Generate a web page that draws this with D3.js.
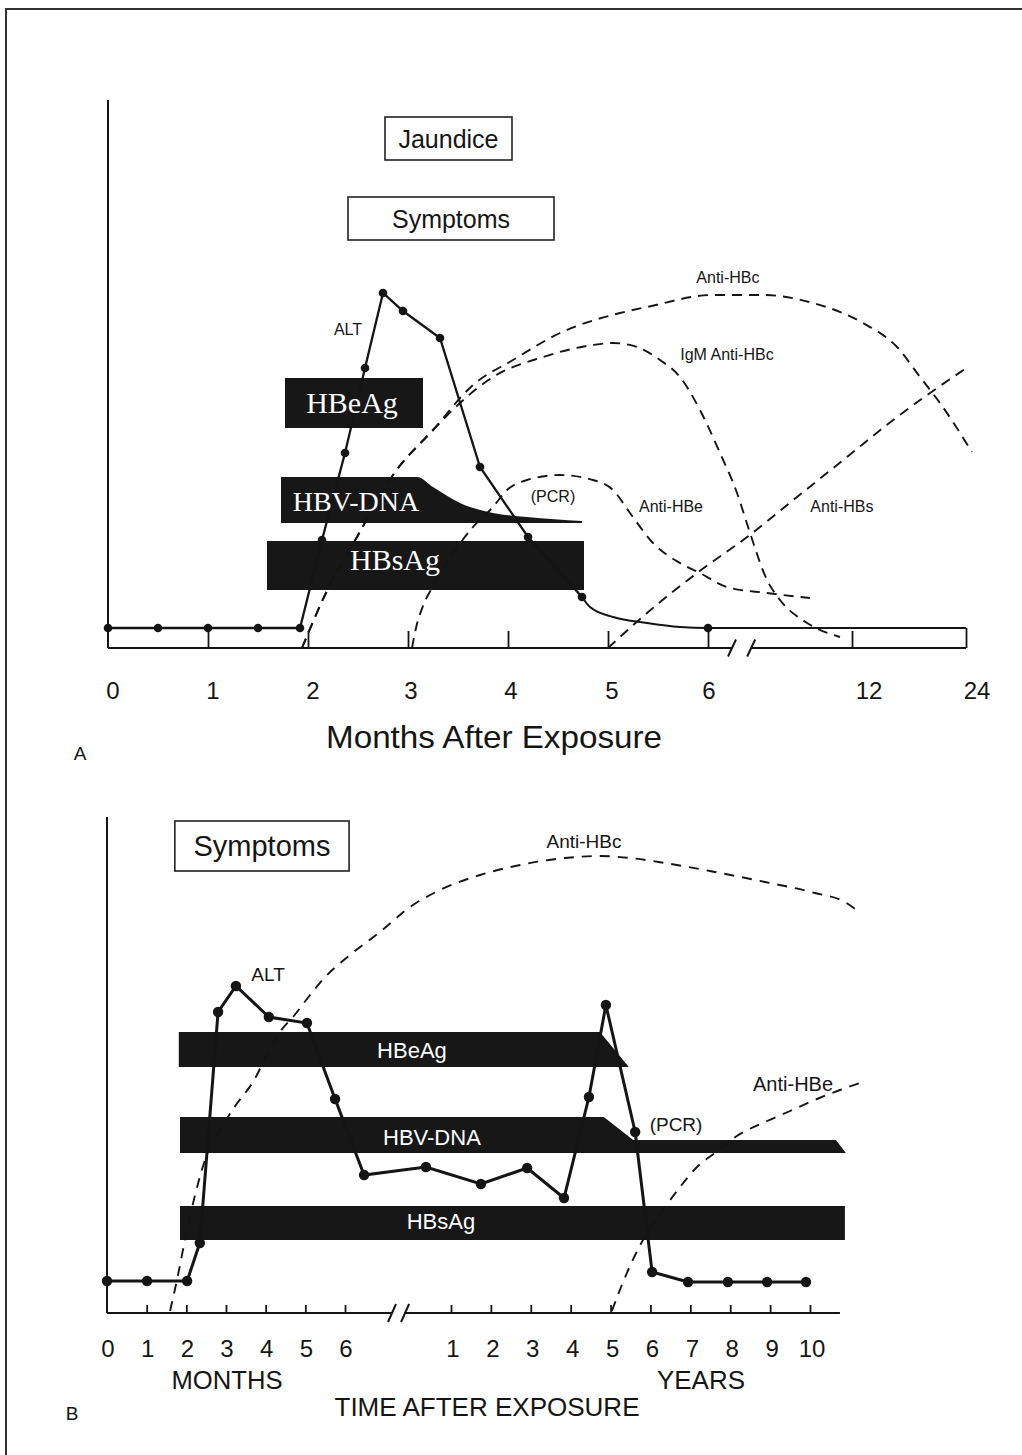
<!DOCTYPE html>
<html><head><meta charset="utf-8">
<script src="https://cdn.jsdelivr.net/npm/d3@7"></script>
<style>
body{margin:0;background:#fff}
svg{display:block}
text{font-family:"Liberation Sans",Arial,Helvetica,sans-serif;fill:#151515}
</style>
</head><body>
<svg id="c" width="1022" height="1455"></svg>
<script>
// ================= DATA : PANEL A (months after exposure) =================
const tickValuesA = [1,2,3,4,5,6,12,24];
const tickLabelsA = [0,1,2,3,4,5,6,12,24];
const breakA = [7.0, 7.8];

const altA_months = [0,0.5,1,1.5,1.92,2.14,2.37,2.57,2.75,2.95,3.32,3.72,4.20,4.74];
const altA_values = [4,4,4,4,4,21.6,39,56,71,67.4,62,36.2,22.2,10.2];
const altA_tail_months = [4.74,4.82,5.05,5.39,5.72,6,24];
const altA_tail_values = [10.2,8.2,6.2,5.0,4.2,4,4];
const altA_tail_dots = [6];

const antiHBcA_months = [1.94,2.17,2.49,2.85,3.25,3.65,4.05,4.52,5.12,5.39,6.21,8.29,10.38,13.16,16.74,19.16,21.26,24.63];
const antiHBcA_values = [0,10.6,22.2,34.6,43.6,52.6,57.6,63.0,67.0,68.2,70.6,70.6,69.0,65.0,60.2,54.2,49.0,39.2];
const igmA_months = [1.94,2.17,2.49,2.85,3.25,3.52,3.85,4.35,4.85,5.05,5.29,5.52,5.72,5.92,6.50,7.21,7.75,8.46,9.00,10.13,11.50];
const igmA_values = [0,10.6,22.2,34.6,43.6,49.0,54.2,58.2,60.6,61.0,60.2,57.6,54.2,47.6,39.0,31.0,23.0,13.6,9.6,5.0,2.2];
const antiHBeA_months = [3.04,3.08,3.15,3.24,3.42,3.65,3.85,3.99,4.19,4.52,4.85,5.05,5.22,5.45,5.72,5.92,6.79,8.46,10.25];
const antiHBeA_values = [0,4,8.4,12,18,24.2,28.2,31.6,33.6,34.6,33.6,31.6,27.0,21.0,17.0,15.0,12.2,11.0,10.0];
const antiHBsA_months = [5.0,5.39,5.89,7.63,9.71,11.79,16.74,20.21,24.21];
const antiHBsA_values = [0,7.0,15.0,22.2,30.2,38.2,46.2,51.0,56.2];

const barNamesA = ["HBeAg","HBsAg"];
const barStartA = [1.77,1.59];
const barEndA   = [3.15,4.76];
const barLowA   = [44,11.6];
const barHighA  = [54,21.4];
const hbvDnaA_months = [1.73,3.09,3.25,3.52,3.85,4.19,4.74];
const hbvDnaA_top    = [34.2,34.2,32.2,29.0,27.0,26.2,25.4];
const hbvDnaA_bottom = 25.0;

const boxNamesA = ["Jaundice","Symptoms"];
const boxStartA = [2.77,2.40];
const boxEndA   = [4.04,4.46];
const boxLowA   = [97.6,81.6];
const boxHighA  = [106.2,90.2];

const labelTextA  = ["ALT","Anti-HBc","IgM Anti-HBc","(PCR)","Anti-HBe","Anti-HBs"];
const labelMonthA = [2.40,6.83,6.79,4.45,5.63,11.58];
const labelLevelA = [62.6,73.0,57.6,29.2,27.2,27.2];
const barLabelMonthA = [2.44,2.48,2.87];
const barLabelLevelA = [47.0,27.4,15.6];
const barLabelTextA  = ["HBeAg","HBV-DNA","HBsAg"];

// ================= DATA : PANEL B (months; years = 12*n) =================
const monthTicksB = [1,2,3,4,5,6];
const yearTicksB  = [1,2,3,4,5,6,7,8,9,10];
const breakB = [8.66, 9.4];

const altB_months = [0,1.01,2.02,2.34,2.80,3.25,4.08,5.04,5.75,7.08,10.58,21.0,34.9,46.0,53.5,58.6,67.4,72.5,83.3,95.3,107.1,118.8];
const altB_values = [6.4,6.4,6.4,14.0,60.2,65.4,59.2,58.0,42.8,27.6,29.2,25.8,29.0,23.0,43.2,61.6,36.2,8.2,6.2,6.2,6.2,6.2];

const antiHBcB_months = [1.59,1.79,1.99,2.22,2.47,2.85,3.25,3.71,4.03,4.36,4.71,5.12,5.50,6.28,7.98,9.68,11.38,20.7,32.8,46.3,56.8,65.9,76.4,91.4,106.5,121.5,130.5,135.1];
const antiHBcB_values = [0.4,7.6,15.6,23.6,30.6,36.6,41.6,46.6,51.6,56.2,59.4,63.6,67.2,71.6,76.2,81.2,84.6,87.6,89.6,91.0,91.4,91.0,90.0,88.2,86.2,84.0,82.2,80.0];
const antiHBeB_months = [60.4,63.4,67.4,71.9,76.4,80.9,86.0,91.4,98.0,107.1,114.0,122.1,129.0,135.0];
const antiHBeB_values = [0.4,5.6,11.6,17.0,21.2,25.2,29.2,32.0,35.4,38.4,40.4,42.8,44.6,46.0];

const hbeAgB_months = [1.81,56.8,65.5];
const hbeAgB_top    = [56.2,56.2,49.2];
const hbeAgB_bottom = 49.2;
const hbvDnaB_months = [1.84,58.0,66.8,127.8,130.8];
const hbvDnaB_top    = [39.2,39.2,34.6,34.6,32.0];
const hbvDnaB_bottom = 32.0;
const hbsAgB_months = [1.84,130.5];
const hbsAgB_top    = [21.4,21.4];
const hbsAgB_bottom = 14.6;

const boxStartB = 1.71, boxEndB = 6.23, boxLowB = 88.4, boxHighB = 98.4;

const labelTextB  = ["ALT","Anti-HBc","(PCR)","Anti-HBe"];
const labelMonthB = [4.06,52.0,79.7,114.9];
const labelLevelB = [66.4,93.0,36.4,44.4];
const barLabelTextB  = ["HBeAg","HBV-DNA","HBsAg"];
const barLabelMonthB = [9.79,10.92,11.43];
const barLabelLevelB = [51.0,33.6,16.8];

// ================= LAYOUT / STYLE =================
const INK = "#151515", BAR = "#171717";
const SERIF = '"Liberation Serif","Times New Roman",serif';
const labelNudgeA = [5,5,5,3,3,4,1,17,11];

const svg = d3.select("#c");
svg.append("path").attr("d","M6,1455V9H1022").attr("fill","none").attr("stroke","#333").attr("stroke-width",2);

function dashedLine(g, x, y, months, values, dash, w){
  const line = d3.line().x(d=>x(d[0])).y(d=>y(d[1])).curve(d3.curveMonotoneX);
  g.append("path").attr("d", line(d3.zip(months, values)))
    .attr("fill","none").attr("stroke",INK).attr("stroke-width",w).attr("stroke-dasharray",dash);
}
function breakMarks(g, x, yBase, brk, h){
  brk.forEach(m=>{
    g.append("line").attr("x1",x(m)-4).attr("x2",x(m)+4).attr("y1",yBase+h/2).attr("y2",yBase-h/2)
      .attr("stroke",INK).attr("stroke-width",2);
  });
}

// ================= PANEL A =================
const xA = d3.scaleLinear().domain([0,6,12,24]).range([108,708,852,966]);
const yA = d3.scaleLinear().domain([0,110]).range([648,98]);
const gA = svg.append("g");

gA.selectAll("rect.barA").data(d3.range(barNamesA.length)).join("rect").attr("class","barA")
  .attr("x",i=>xA(barStartA[i])).attr("width",i=>xA(barEndA[i])-xA(barStartA[i]))
  .attr("y",i=>yA(barHighA[i])).attr("height",i=>yA(barLowA[i])-yA(barHighA[i])).attr("fill",BAR);
gA.append("path")
  .attr("d", d3.area().x(d=>xA(d[0])).y0(yA(hbvDnaA_bottom)).y1(d=>yA(d[1])).curve(d3.curveMonotoneX)(d3.zip(hbvDnaA_months,hbvDnaA_top)))
  .attr("fill",BAR);

gA.selectAll("rect.boxA").data(d3.range(boxNamesA.length)).join("rect").attr("class","boxA")
  .attr("x",i=>xA(boxStartA[i])).attr("width",i=>xA(boxEndA[i])-xA(boxStartA[i]))
  .attr("y",i=>yA(boxHighA[i])).attr("height",i=>yA(boxLowA[i])-yA(boxHighA[i]))
  .attr("fill","#fff").attr("stroke","#222").attr("stroke-width",1.6);
gA.selectAll("text.boxA").data(d3.range(boxNamesA.length)).join("text").attr("class","boxA")
  .attr("x",i=>(xA(boxStartA[i])+xA(boxEndA[i]))/2).attr("y",i=>(yA(boxHighA[i])+yA(boxLowA[i]))/2)
  .attr("dy","0.36em").attr("text-anchor","middle").attr("font-size",25).text(i=>boxNamesA[i]);

gA.append("line").attr("x1",xA(0)).attr("x2",xA(0)).attr("y1",yA(0)).attr("y2",yA(109.6)).attr("stroke",INK).attr("stroke-width",2);
[[0,breakA[0]],[breakA[1],24]].forEach(s=>gA.append("line").attr("x1",xA(s[0])).attr("x2",xA(s[1]))
  .attr("y1",yA(0)).attr("y2",yA(0)).attr("stroke",INK).attr("stroke-width",2));
breakMarks(gA, xA, yA(0), breakA, 17);
const axA = gA.append("g").attr("transform",`translate(0,${yA(0)})`)
  .call(d3.axisBottom(xA).tickValues(tickValuesA).tickSize(-17).tickFormat(""));
axA.select(".domain").remove();
axA.selectAll(".tick line").attr("stroke",INK).attr("stroke-width",1.8)
  .attr("y2",d=>(d===1||d===6||d===24)? yA(4)-yA(0) : -17);
gA.selectAll("text.tickA").data(tickLabelsA).join("text").attr("class","tickA")
  .attr("x",(d,i)=>xA(d)+labelNudgeA[i]).attr("y",yA(0)+51).attr("text-anchor","middle")
  .attr("font-size",24).text(d=>d);
gA.append("text").attr("x",494).attr("y",yA(0)+100).attr("text-anchor","middle").attr("font-size",32)
  .attr("textLength",336).attr("lengthAdjust","spacingAndGlyphs").text("Months After Exposure");
gA.append("text").attr("x",80).attr("y",yA(0)+112).attr("text-anchor","middle").attr("font-size",19).text("A");

dashedLine(gA,xA,yA,antiHBcA_months,antiHBcA_values,"10,7",1.9);
dashedLine(gA,xA,yA,igmA_months,igmA_values,"10,7",1.9);
dashedLine(gA,xA,yA,antiHBeA_months,antiHBeA_values,"10,7",1.9);
dashedLine(gA,xA,yA,antiHBsA_months,antiHBsA_values,"10,7",1.9);

gA.append("path").attr("d",d3.line().x(d=>xA(d[0])).y(d=>yA(d[1]))(d3.zip(altA_months,altA_values)))
  .attr("fill","none").attr("stroke",INK).attr("stroke-width",2.3);
gA.append("path").attr("d",d3.line().x(d=>xA(d[0])).y(d=>yA(d[1])).curve(d3.curveMonotoneX)(d3.zip(altA_tail_months,altA_tail_values)))
  .attr("fill","none").attr("stroke",INK).attr("stroke-width",2);
gA.selectAll("circle.altA").data(d3.zip(altA_months,altA_values).concat(altA_tail_dots.map(m=>[m,altA_tail_values[altA_tail_months.indexOf(m)]])))
  .join("circle").attr("class","altA").attr("cx",d=>xA(d[0])).attr("cy",d=>yA(d[1])).attr("r",4.3).attr("fill",INK);

gA.selectAll("text.barA").data(d3.range(barLabelTextA.length)).join("text").attr("class","barA")
  .attr("x",i=>xA(barLabelMonthA[i])).attr("y",i=>yA(barLabelLevelA[i])).attr("text-anchor","middle")
  .style("font-family",SERIF).style("fill","#fff").attr("font-size",i=>i===1?28:30).text(i=>barLabelTextA[i]);

gA.selectAll("text.labA").data(d3.range(labelTextA.length)).join("text").attr("class","labA")
  .attr("x",i=>xA(labelMonthA[i])).attr("y",i=>yA(labelLevelA[i])).attr("text-anchor","middle")
  .attr("font-size",16).text(i=>labelTextA[i]);

// ================= PANEL B =================
const xB = d3.scaleLinear().domain([0,6,12,120]).range([107,345,451,810]);
const yB = d3.scaleLinear().domain([0,100]).range([1313,813]);
const gB = svg.append("g");

[[hbeAgB_months,hbeAgB_top,hbeAgB_bottom],[hbvDnaB_months,hbvDnaB_top,hbvDnaB_bottom],[hbsAgB_months,hbsAgB_top,hbsAgB_bottom]]
  .forEach(b=>{
    gB.append("path").attr("d",d3.area().x(d=>xB(d[0])).y0(yB(b[2])).y1(d=>yB(d[1]))(d3.zip(b[0],b[1]))).attr("fill",BAR);
  });

gB.append("rect").attr("x",xB(boxStartB)).attr("width",xB(boxEndB)-xB(boxStartB))
  .attr("y",yB(boxHighB)).attr("height",yB(boxLowB)-yB(boxHighB))
  .attr("fill","#fff").attr("stroke","#222").attr("stroke-width",1.6);
gB.append("text").attr("x",(xB(boxStartB)+xB(boxEndB))/2).attr("y",(yB(boxHighB)+yB(boxLowB))/2)
  .attr("dy","0.36em").attr("text-anchor","middle").attr("font-size",29).text("Symptoms");

gB.append("line").attr("x1",xB(0)).attr("x2",xB(0)).attr("y1",yB(0)).attr("y2",yB(99.2)).attr("stroke",INK).attr("stroke-width",2);
[[0,breakB[0]],[breakB[1],129]].forEach(s=>gB.append("line").attr("x1",xB(s[0])).attr("x2",xB(s[1]))
  .attr("y1",yB(0)).attr("y2",yB(0)).attr("stroke",INK).attr("stroke-width",2));
breakMarks(gB, xB, yB(0), breakB, 18);
const axB = gB.append("g").attr("transform",`translate(0,${yB(0)})`)
  .call(d3.axisBottom(xB).tickValues(monthTicksB.concat(yearTicksB.map(y=>y*12))).tickSize(-8).tickFormat(""));
axB.select(".domain").remove();
axB.selectAll(".tick line").attr("stroke",INK).attr("stroke-width",1.8);
gB.selectAll("text.tickBm").data([0].concat(monthTicksB)).join("text").attr("class","tickBm")
  .attr("x",d=>xB(d)+1).attr("y",yB(0)+44).attr("text-anchor","middle").attr("font-size",24).text(d=>d);
gB.selectAll("text.tickBy").data(yearTicksB).join("text").attr("class","tickBy")
  .attr("x",d=>xB(d*12)+2).attr("y",yB(0)+44).attr("text-anchor","middle").attr("font-size",24).text(d=>d);
gB.append("text").attr("x",227).attr("y",yB(0)+76).attr("text-anchor","middle").attr("font-size",25)
  .attr("textLength",111).attr("lengthAdjust","spacingAndGlyphs").text("MONTHS");
gB.append("text").attr("x",701).attr("y",yB(0)+76).attr("text-anchor","middle").attr("font-size",25)
  .attr("textLength",88).attr("lengthAdjust","spacingAndGlyphs").text("YEARS");
gB.append("text").attr("x",487).attr("y",yB(0)+103).attr("text-anchor","middle").attr("font-size",25)
  .attr("textLength",305).attr("lengthAdjust","spacingAndGlyphs").text("TIME AFTER EXPOSURE");
gB.append("text").attr("x",72).attr("y",yB(0)+107).attr("text-anchor","middle").attr("font-size",19).text("B");

dashedLine(gB,xB,yB,antiHBcB_months,antiHBcB_values,"10,8",1.9);
dashedLine(gB,xB,yB,antiHBeB_months,antiHBeB_values,"10,8",1.9);

gB.append("path").attr("d",d3.line().x(d=>xB(d[0])).y(d=>yB(d[1]))(d3.zip(altB_months,altB_values)))
  .attr("fill","none").attr("stroke",INK).attr("stroke-width",3);
gB.selectAll("circle.altB").data(d3.zip(altB_months,altB_values)).join("circle").attr("class","altB")
  .attr("cx",d=>xB(d[0])).attr("cy",d=>yB(d[1])).attr("r",5.2).attr("fill",INK);

gB.selectAll("text.barB").data(d3.range(barLabelTextB.length)).join("text").attr("class","barB")
  .attr("x",i=>xB(barLabelMonthB[i])).attr("y",i=>yB(barLabelLevelB[i])).attr("text-anchor","middle")
  .style("fill","#fff").attr("font-size",22).text(i=>barLabelTextB[i]);

gB.selectAll("text.labB").data(d3.range(labelTextB.length)).join("text").attr("class","labB")
  .attr("x",i=>xB(labelMonthB[i])).attr("y",i=>yB(labelLevelB[i])).attr("text-anchor","middle")
  .attr("font-size",i=>i===3?20:19).text(i=>labelTextB[i]);
</script>
</body></html>
